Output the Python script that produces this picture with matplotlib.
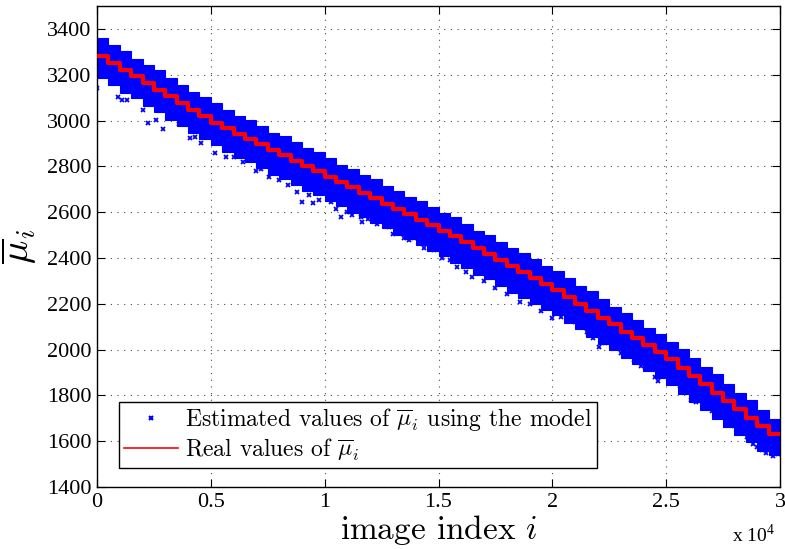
import numpy as np
import matplotlib
matplotlib.use("Agg")
import matplotlib.pyplot as plt
from matplotlib.lines import Line2D

# one real value of mu_bar per block of images
step_len = 500
real_mu = [3280, 3251, 3222, 3193, 3164, 3135, 3106, 3077, 3048, 3019,
           2990, 2966, 2943, 2919, 2896, 2872, 2849, 2825, 2802, 2778,
           2755, 2731, 2708, 2684, 2661, 2637, 2614, 2590, 2567, 2543,
           2520, 2494, 2468, 2443, 2417, 2391, 2365, 2339, 2314, 2288,
           2262, 2231, 2201, 2170, 2140, 2110, 2079, 2049, 2018, 1988,
           1957, 1921, 1884, 1848, 1812, 1775, 1739, 1703, 1666, 1630]

# spread of the dense cloud of estimates around each block (above / below)
est_above = [80, 78, 82, 76, 80, 84, 78, 80, 76, 82,
             85, 80, 78, 84, 80, 76, 82, 80, 78, 84,
             80, 76, 82, 80, 84, 78, 80, 76, 82, 80,
             78, 84, 80, 76, 82, 80, 78, 84, 80, 76,
             82, 80, 78, 84, 80, 76, 80, 82, 78, 80,
             76, 80, 78, 74, 80, 76, 72, 78, 70, 66]
est_below = [92, 96, 100, 96, 102, 98, 104, 100, 104, 100,
             98, 102, 106, 100, 104, 108, 102, 106, 108, 104,
             106, 104, 110, 106, 110, 108, 112, 108, 110, 114,
             110, 114, 112, 116, 110, 114, 116, 112, 116, 114,
             112, 116, 110, 114, 116, 112, 116, 114, 110, 114,
             112, 116, 114, 110, 114, 112, 112, 108, 110, 90]

# isolated estimates outside the dense cloud
outlier_idx = [0, 931, 1078, 1296, 2025, 2243, 2610, 2900, 3300, 3600,
               4067, 4300, 4577, 5200, 5670, 6035, 6400, 6984, 7200, 7566,
               8000, 8400, 8800, 9022, 9315, 9500, 9752, 10262, 10500, 10700,
               11000, 11210, 11574, 11647, 11900, 12300, 12813, 13000, 13469, 13700,
               13907, 14198, 14344, 14781, 15146, 15500, 15800, 16200, 16458, 16823,
               17000, 17500, 18000, 18600, 19000, 19500, 20000, 20365, 20977, 21196,
               21530, 21800, 22070, 22300, 22653, 23000, 23163, 23601, 23900, 24257,
               24500, 24620, 25300, 25600, 26078, 26300, 26662, 27000, 27300, 27682,
               28000, 28265, 28557, 28800, 29000, 29200, 29400, 29700, 29900]
outlier_mu = [3141, 3104, 3090, 3090, 3046, 2988, 3003, 2962, 3010, 2985,
              2922, 2930, 2902, 2860, 2840, 2842, 2820, 2781, 2790, 2755,
              2740, 2720, 2690, 2646, 2675, 2640, 2653, 2646, 2615, 2580,
              2600, 2588, 2580, 2559, 2570, 2550, 2537, 2505, 2486, 2480,
              2486, 2471, 2442, 2435, 2399, 2390, 2360, 2340, 2319, 2333,
              2300, 2270, 2245, 2210, 2200, 2170, 2140, 2141, 2122, 2118,
              2078, 2050, 2013, 2030, 2016, 1985, 1998, 1955, 1930, 1918,
              1880, 1864, 1860, 1840, 1779, 1770, 1757, 1730, 1710, 1692,
              1665, 1641, 1619, 1590, 1575, 1560, 1550, 1535, 1545]

x_ticks = [0, 5000, 10000, 15000, 20000, 25000, 30000]
x_tick_labels = ["0", "0.5", "1", "1.5", "2", "2.5", "3"]
y_ticks = [1400, 1600, 1800, 2000, 2200, 2400, 2600, 2800, 3000, 3200, 3400]

plt.rcParams["mathtext.fontset"] = "cm"
plt.rcParams["font.family"] = ["Liberation Serif", "DejaVu Serif"]

fig = plt.figure(figsize=(7.85, 5.49), dpi=100)
ax = fig.add_axes([0.1236, 0.1129, 0.870, 0.876])

real = np.array(real_mu, dtype=float)
starts = np.arange(len(real)) * step_len
top = real + np.array(est_above)
bot = real - np.array(est_below)

ax.bar(starts, top - bot, bottom=bot, width=step_len, align="edge",
       color="blue", edgecolor="blue", lw=0.8, zorder=2)
ax.plot(outlier_idx, outlier_mu, ls="none", marker="x", ms=3.5, mew=1.3,
        color="blue", zorder=2)

xs = np.append(starts, len(real) * step_len)
ys = np.append(real, real[-1])
ax.step(xs, ys, where="post", color="red", lw=3, zorder=3)

ax.set_xlim(0, 30000)
ax.set_ylim(1400, 3500)
ax.set_xticks(x_ticks)
ax.set_xticklabels(x_tick_labels)
ax.set_yticks(y_ticks)
ax.tick_params(direction="in", top=True, right=True, length=6, width=0.8,
               labelsize=16, pad=4)
ax.grid(True, color="k", lw=0.8, ls=(0, (1, 5)), alpha=0.7)
for s in ax.spines.values():
    s.set_linewidth(1.0)

ax.set_xlabel("image index $i$", family="cmr10", fontsize=24, labelpad=1)
ax.set_ylabel(r"$\overline{\mu}_i$", fontsize=28, labelpad=6)

handles = [Line2D([], [], ls="none", marker="x", ms=2.5, mew=1.5, color="blue"),
           Line2D([], [], color="red", lw=1.2)]
labels = [r"Estimated values of $\overline{\mu}_i$ using the model",
          r"Real values of $\overline{\mu}_i$"]
leg = ax.legend(handles, labels, loc="lower left", bbox_to_anchor=(0.032, 0.04),
                borderaxespad=0, prop={"family": "cmr10", "size": 17},
                fancybox=False, framealpha=1, edgecolor="k", handlelength=2.3,
                handletextpad=0.3, borderpad=0.2, labelspacing=0.15)
leg.get_frame().set_linewidth(1.0)

fig.text(0.932, 0.012, r"x 10$^{\mathregular{4}}$", fontsize=14)

fig.savefig("out.png", dpi=100)
